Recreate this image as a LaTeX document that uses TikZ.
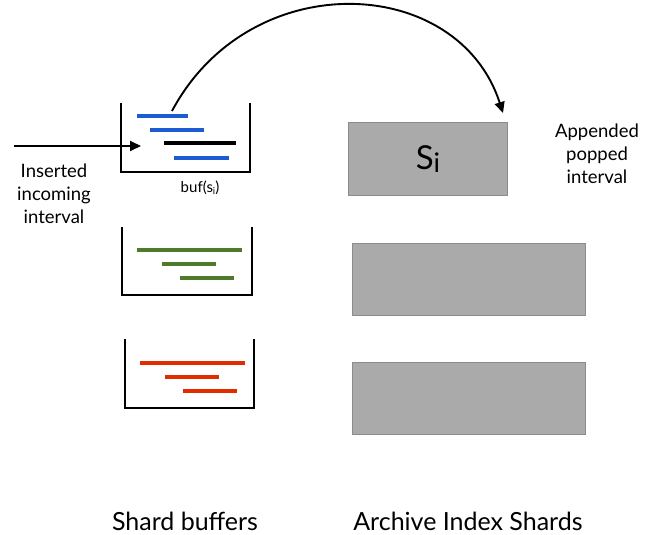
\documentclass[tikz,border=0pt]{standalone}
\usepackage{fontspec}
\setmainfont{Lato}
\usetikzlibrary{arrows.meta}
\definecolor{ivblue}{RGB}{28,92,210}
\definecolor{ivgreen}{RGB}{78,122,42}
\definecolor{ivred}{RGB}{226,44,0}
\definecolor{shardfill}{RGB}{170,170,170}
\definecolor{sharddraw}{RGB}{140,140,140}
\tikzset{
  wall/.style={line width=2.8pt, line join=miter},
  ival/.style={line width=3.6pt},
  shard/.style={draw=sharddraw, fill=shardfill, line width=1.5pt},
  lbl/.style={font=\fontsize{18.5}{23}\selectfont, align=center, inner sep=0pt},
  caption/.style={font=\fontsize{25}{28}\selectfont, inner sep=0pt},
  flow/.style={line width=1.9pt, -{Triangle[length=11pt,width=10pt]}}
}
\begin{document}
\begin{tikzpicture}[x=1pt,y=-1pt]
\useasboundingbox (0,0) rectangle (667,535);

% shard buffers
\draw[wall] (121,103) -- (121,172) -- (250,172) -- (250,103);
\draw[wall] (122,227) -- (122,295) -- (252,295) -- (252,227);
\draw[wall] (125,339) -- (125,408) -- (254,408) -- (254,339);

% buffered intervals
\draw[ival, ivblue] (137,116) -- (188,116);
\draw[ival, ivblue] (150,130) -- (204,130);
\draw[ival, black, line width=4pt] (164,143) -- (236,143);
\draw[ival, ivblue] (174,158) -- (229,158);

\draw[ival, ivgreen] (137,250) -- (242,250);
\draw[ival, ivgreen] (162,264) -- (216,264);
\draw[ival, ivgreen] (180,278) -- (234,278);

\draw[ival, ivred] (140,363) -- (245,363);
\draw[ival, ivred] (165,377) -- (219,377);
\draw[ival, ivred] (183,391) -- (237,391);

% archive index shards
\node[shard, minimum width=159pt, minimum height=73pt, inner sep=0pt,
      font=\fontsize{33}{36}\selectfont] (si) at (428,159) {S\raisebox{-3.5pt}{\fontsize{27}{30}\selectfont i}};
\node[shard, minimum width=233pt, minimum height=72pt] (sh2) at (469,279.5) {};
\node[shard, minimum width=233pt, minimum height=72pt] (sh3) at (469,398.5) {};

% labels
\node[lbl] (ins) at (54,194) {Inserted\\incoming\\interval};
\node[lbl, font=\fontsize{15}{17}\selectfont] (buf) at (200,188) {buf(s\raisebox{-1.5pt}{\fontsize{9.5}{10}\selectfont i})};
\node[lbl] (app) at (597,154) {Appended\\popped\\interval};
\node[caption] (cb) at (185,521) {Shard buffers};
\node[caption] (ca) at (468,521) {Archive Index Shards};

% connectors
\coordinate (inA) at (14,146);
\coordinate (inB) at (141,146);
\coordinate (popA) at (172,111);
\coordinate (popB) at (503,113);
\draw[flow] (inA) -- (inB);
\draw[flow] (popA) .. controls (250,-35) and (458,-26) .. (popB);
\end{tikzpicture}
\end{document}
